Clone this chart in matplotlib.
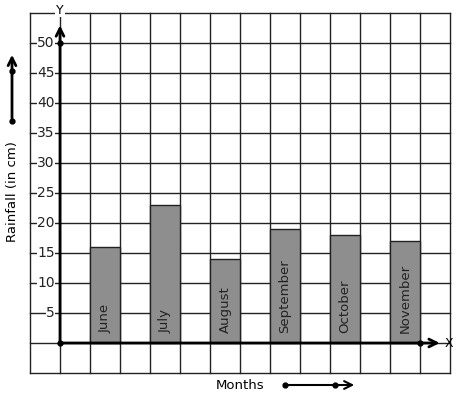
import matplotlib.pyplot as plt

# rainfall per month (cm)
months = ["June", "July", "August", "September", "October", "November"]
rainfall = [16, 23, 14, 19, 18, 17]
y_ticks = [5, 10, 15, 20, 25, 30, 35, 40, 45, 50]

fig = plt.figure(figsize=(4.57, 3.99), dpi=100)
ax = fig.add_axes([0, 0, 1, 1])
ax.set_xlim(-2, 13.2333)
ax.set_ylim(-9.333, 57.1667)
ax.axis("off")

# graph paper grid
for gx in range(-1, 14):
    ax.plot([gx, gx], [-5, 55], color="#222222", lw=1.0, zorder=1)
for gy in range(-5, 56, 5):
    ax.plot([-1, 13], [gy, gy], color="#222222", lw=1.0, zorder=1)

# bars
xpos = [1.5 + 2 * i for i in range(len(months))]
ax.bar(xpos, rainfall, width=1.0, color="#8e8e8e", edgecolor="#222222",
       linewidth=1.0, zorder=2)
for x, m in zip(xpos, months):
    ax.text(x, 1.6, m, rotation=90, ha="center", va="bottom",
            fontsize=9.5, color="#222222", zorder=3)

# axes with arrows
ax.annotate("", xy=(0, 53.4), xytext=(0, -0.2),
            arrowprops=dict(arrowstyle="->", lw=2, color="black",
                            mutation_scale=14), zorder=4)
ax.annotate("", xy=(12.75, 0), xytext=(-0.05, 0),
            arrowprops=dict(arrowstyle="->", lw=2, color="black",
                            mutation_scale=14), zorder=4)
ax.plot([0, 0, 12], [0, 50, 0], "o", color="black", ms=3.5, zorder=5)
ax.text(0, 55.5, "Y", ha="center", va="center", fontsize=9,
        bbox=dict(facecolor="white", edgecolor="none", pad=0.5), zorder=5)
ax.text(12.95, 0, "X", ha="center", va="center", fontsize=9, zorder=5)

# y tick labels
for t in y_ticks:
    ax.text(-0.17, t, str(t), ha="right", va="center", fontsize=10,
            color="#222222",
            bbox=dict(facecolor="white", edgecolor="none", pad=0.2), zorder=3)

# axis titles with direction arrows
ax.text(-1.6, 25.2, "Rainfall (in cm)", rotation=90, ha="center",
        va="center", fontsize=9.5)
ax.annotate("", xy=(-1.6, 48.5), xytext=(-1.6, 37),
            arrowprops=dict(arrowstyle="->", lw=2, color="black",
                            mutation_scale=14))
ax.plot([-1.6, -1.6], [37, 45.3], "o", color="black", ms=3.5)

ax.text(6, -7, "Months", ha="center", va="center", fontsize=9.5)
ax.annotate("", xy=(9.9, -7), xytext=(7.5, -7),
            arrowprops=dict(arrowstyle="->", lw=1.5, color="black",
                            mutation_scale=14))
ax.plot([7.5, 9.15], [-7, -7], "o", color="black", ms=3.5)

fig.savefig("out.png", dpi=100)
